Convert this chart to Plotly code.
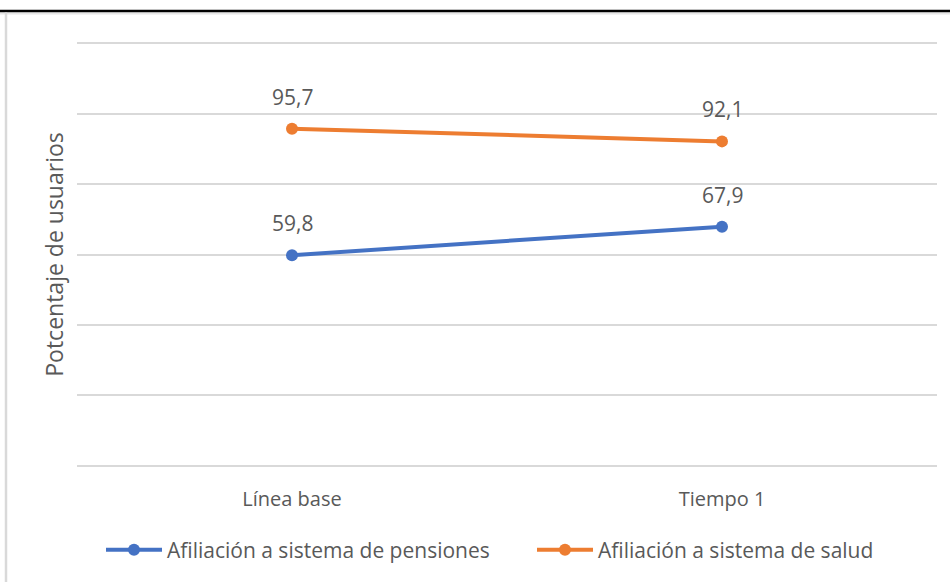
import plotly.graph_objects as go

categories = ["Línea base", "Tiempo 1"]
pensiones = [59.8, 67.9]
salud = [95.7, 92.1]
series_names = ["Afiliación a sistema de pensiones", "Afiliación a sistema de salud"]
y_title = "Potcentaje de usuarios"

FONT = "Open Sans, Segoe UI, Calibri, sans-serif"
GREY = "#595959"
colors = ["#4472C4", "#ED7D31"]
legend_ids = ["legend", "legend2"]

fig = go.Figure()
for name, vals, col, lg in zip(series_names, [pensiones, salud], colors, legend_ids):
    fig.add_trace(go.Scatter(
        x=categories, y=vals, name=name, mode="lines+markers", legend=lg,
        line=dict(color=col, width=4), marker=dict(color=col, size=12),
    ))
    for c, v in zip(categories, vals):
        fig.add_annotation(x=c, y=v, text=f"{v:.1f}".replace(".", ","),
                           showarrow=False, yshift=32,
                           font=dict(family=FONT, size=21, color=GREY))

W, H = 950, 582
L, R, T, B = 77, 13, 42, 115
pw, ph = W - L - R, H - T - B
def px_x(p): return (p - L) / pw
def px_y(p): return (H - B - p) / ph

fig.add_shape(type="line", xref="paper", yref="paper",
              x0=px_x(0), x1=px_x(950), y0=px_y(13.5), y1=px_y(13.5),
              line=dict(color="#E6E6E6", width=2))
fig.add_shape(type="line", xref="paper", yref="paper",
              x0=px_x(0), x1=px_x(950), y0=px_y(11), y1=px_y(11),
              line=dict(color="#000000", width=2.5))
fig.add_shape(type="line", xref="paper", yref="paper",
              x0=px_x(6), x1=px_x(6), y0=px_y(12.5), y1=px_y(582),
              line=dict(color="#D9D9D9", width=2.5))

legend_style = dict(orientation="h", xanchor="left", y=px_y(550), yanchor="middle",
                    font=dict(family=FONT, size=21, color=GREY), bgcolor="rgba(0,0,0,0)",
                    itemwidth=56)

fig.update_layout(
    width=W, height=H,
    margin=dict(l=L, r=R, t=T, b=B),
    paper_bgcolor="white", plot_bgcolor="white",
    font=dict(family=FONT, size=20, color=GREY),
    showlegend=True,
    legend=dict(x=px_x(101), **legend_style),
    legend2=dict(x=px_x(532), **legend_style),
    xaxis=dict(type="category", range=[-0.5, 1.5], showgrid=False, zeroline=False,
               showline=False, ticks="", ticklabelstandoff=18,
               tickfont=dict(family=FONT, size=20, color=GREY)),
    yaxis=dict(range=[-0.3, 120.3], tickvals=[0, 20, 40, 60, 80, 100, 120],
               showgrid=True, gridcolor="#D9D9D9", gridwidth=2,
               showticklabels=False, zeroline=False, showline=False, ticks="",
               title=dict(text=y_title, font=dict(family=FONT, size=23, color=GREY), standoff=5)),
)

fig.write_html("out.html", config={"displayModeBar": False})
with open("out.html", encoding="utf-8") as f:
    html = f.read()
html = html.replace("<body>", '<body style="margin:0;padding:0;">', 1)
html = html.replace("<head>", '<head><style>html,body{margin:0;padding:0;overflow:hidden;}</style>', 1)
with open("out.html", "w", encoding="utf-8") as f:
    f.write(html)
